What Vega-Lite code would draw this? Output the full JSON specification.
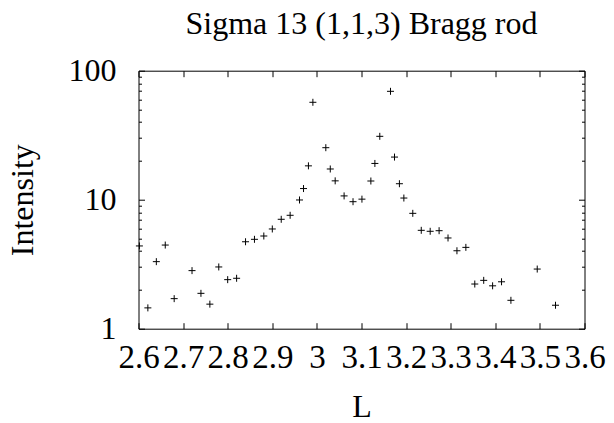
{
  "$schema": "https://vega.github.io/schema/vega-lite/v6.json",
  "width": 446,
  "height": 258,
  "autosize": {"type": "none"},
  "padding": {"left": 138.5, "top": 70.7, "right": 29.5, "bottom": 94.3},
  "background": "white",
  "title": {
    "text": "Sigma 13 (1,1,3) Bragg rod",
    "font": "Liberation Serif",
    "fontSize": 32,
    "fontWeight": "normal",
    "color": "black",
    "baseline": "alphabetic",
    "offset": 10,
    "dy": 21,
    "anchor": "middle"
  },
  "config": {
    "font": "Liberation Serif",
    "view": {"stroke": "black", "strokeWidth": 1},
    "axis": {
      "labelFont": "Liberation Serif",
      "titleFont": "Liberation Serif",
      "labelFontSize": 32,
      "titleFontSize": 32,
      "labelColor": "black",
      "titleColor": "black",
      "titleFontWeight": "normal",
      "tickColor": "black",
      "grid": false,
      "domain": false
    }
  },
  "data": {
    "values": [
      {"L": 2.602, "I": 4.38},
      {"L": 2.621, "I": 1.45},
      {"L": 2.640, "I": 3.31},
      {"L": 2.660, "I": 4.45},
      {"L": 2.680, "I": 1.71},
      {"L": 2.720, "I": 2.82},
      {"L": 2.740, "I": 1.88},
      {"L": 2.760, "I": 1.55},
      {"L": 2.780, "I": 3.01},
      {"L": 2.800, "I": 2.40},
      {"L": 2.820, "I": 2.46},
      {"L": 2.840, "I": 4.72},
      {"L": 2.860, "I": 4.93},
      {"L": 2.881, "I": 5.23},
      {"L": 2.900, "I": 5.93},
      {"L": 2.920, "I": 7.05},
      {"L": 2.940, "I": 7.57},
      {"L": 2.961, "I": 9.95},
      {"L": 2.970, "I": 12.2},
      {"L": 2.981, "I": 18.3},
      {"L": 2.991, "I": 56.9},
      {"L": 3.020, "I": 25.3},
      {"L": 3.030, "I": 17.3},
      {"L": 3.041, "I": 14.0},
      {"L": 3.061, "I": 10.7},
      {"L": 3.081, "I": 9.65},
      {"L": 3.101, "I": 10.1},
      {"L": 3.121, "I": 13.96},
      {"L": 3.130, "I": 19.1},
      {"L": 3.141, "I": 31.0},
      {"L": 3.165, "I": 69.2},
      {"L": 3.174, "I": 21.4},
      {"L": 3.185, "I": 13.3},
      {"L": 3.195, "I": 10.3},
      {"L": 3.215, "I": 7.84},
      {"L": 3.234, "I": 5.79},
      {"L": 3.254, "I": 5.69},
      {"L": 3.274, "I": 5.75},
      {"L": 3.294, "I": 5.05},
      {"L": 3.314, "I": 4.02},
      {"L": 3.334, "I": 4.27},
      {"L": 3.354, "I": 2.22},
      {"L": 3.374, "I": 2.37},
      {"L": 3.394, "I": 2.15},
      {"L": 3.414, "I": 2.31},
      {"L": 3.435, "I": 1.66},
      {"L": 3.494, "I": 2.90},
      {"L": 3.535, "I": 1.52}
    ]
  },
  "layer": [
    {
      "mark": {
        "type": "point",
        "shape": "M-1,0H1M0,-1V1",
        "size": 49,
        "filled": false,
        "stroke": "black",
        "strokeWidth": 1,
        "opacity": 1
      },
      "encoding": {
        "x": {
          "field": "L",
          "type": "quantitative",
          "scale": {"domain": [2.6, 3.6], "nice": false, "zero": false},
          "axis": {
            "orient": "bottom",
            "values": [2.6, 2.7, 2.8, 2.9, 3.0, 3.1, 3.2, 3.3, 3.4, 3.5, 3.6],
            "format": "~g",
            "tickSize": -6,
            "labelFontSize": 33,
            "labelPadding": 45,
            "labelBaseline": "alphabetic",
            "labelOverlap": false,
            "labelFlush": false,
            "labelBound": false,
            "title": "L",
            "titleBaseline": "alphabetic",
            "titleX": 223,
            "titleY": 88,
            "titleAnchor": "middle",
            "titleAlign": "center"
          }
        },
        "y": {
          "field": "I",
          "type": "quantitative",
          "scale": {"type": "log", "domain": [1, 100], "nice": false},
          "axis": {
            "orient": "left",
            "values": [1, 2, 3, 4, 5, 6, 7, 8, 9, 10, 20, 30, 40, 50, 60, 70, 80, 90, 100],
            "labelExpr": "indexof([1,10,100], datum.value) >= 0 ? datum.label : ''",
            "format": "~g",
            "tickSize": {"condition": {"test": "indexof([1,10,100], datum.value) >= 0", "value": -6}, "value": -3},
            "labelPadding": 28.5,
            "labelBaseline": "middle",
            "labelOverlap": false,
            "labelFlush": false,
            "labelBound": false,
            "title": "Intensity",
            "titleAngle": -90,
            "titleBaseline": "alphabetic",
            "titleAlign": "center",
            "titleX": -106,
            "titleY": 129
          }
        }
      }
    },
    {
      "mark": {"type": "point", "opacity": 0},
      "encoding": {
        "x": {
          "field": "L",
          "type": "quantitative",
          "scale": {"domain": [2.6, 3.6], "nice": false, "zero": false},
          "axis": {
            "orient": "top",
            "values": [2.6, 2.7, 2.8, 2.9, 3.0, 3.1, 3.2, 3.3, 3.4, 3.5, 3.6],
            "tickSize": -6,
            "labels": false,
            "title": null
          }
        },
        "y": {
          "field": "I",
          "type": "quantitative",
          "scale": {"type": "log", "domain": [1, 100], "nice": false},
          "axis": {
            "orient": "right",
            "values": [1, 2, 3, 4, 5, 6, 7, 8, 9, 10, 20, 30, 40, 50, 60, 70, 80, 90, 100],
            "tickSize": {"condition": {"test": "indexof([1,10,100], datum.value) >= 0", "value": -6}, "value": -3},
            "labels": false,
            "title": null
          }
        }
      }
    }
  ],
  "resolve": {"axis": {"x": "independent", "y": "independent"}}
}
